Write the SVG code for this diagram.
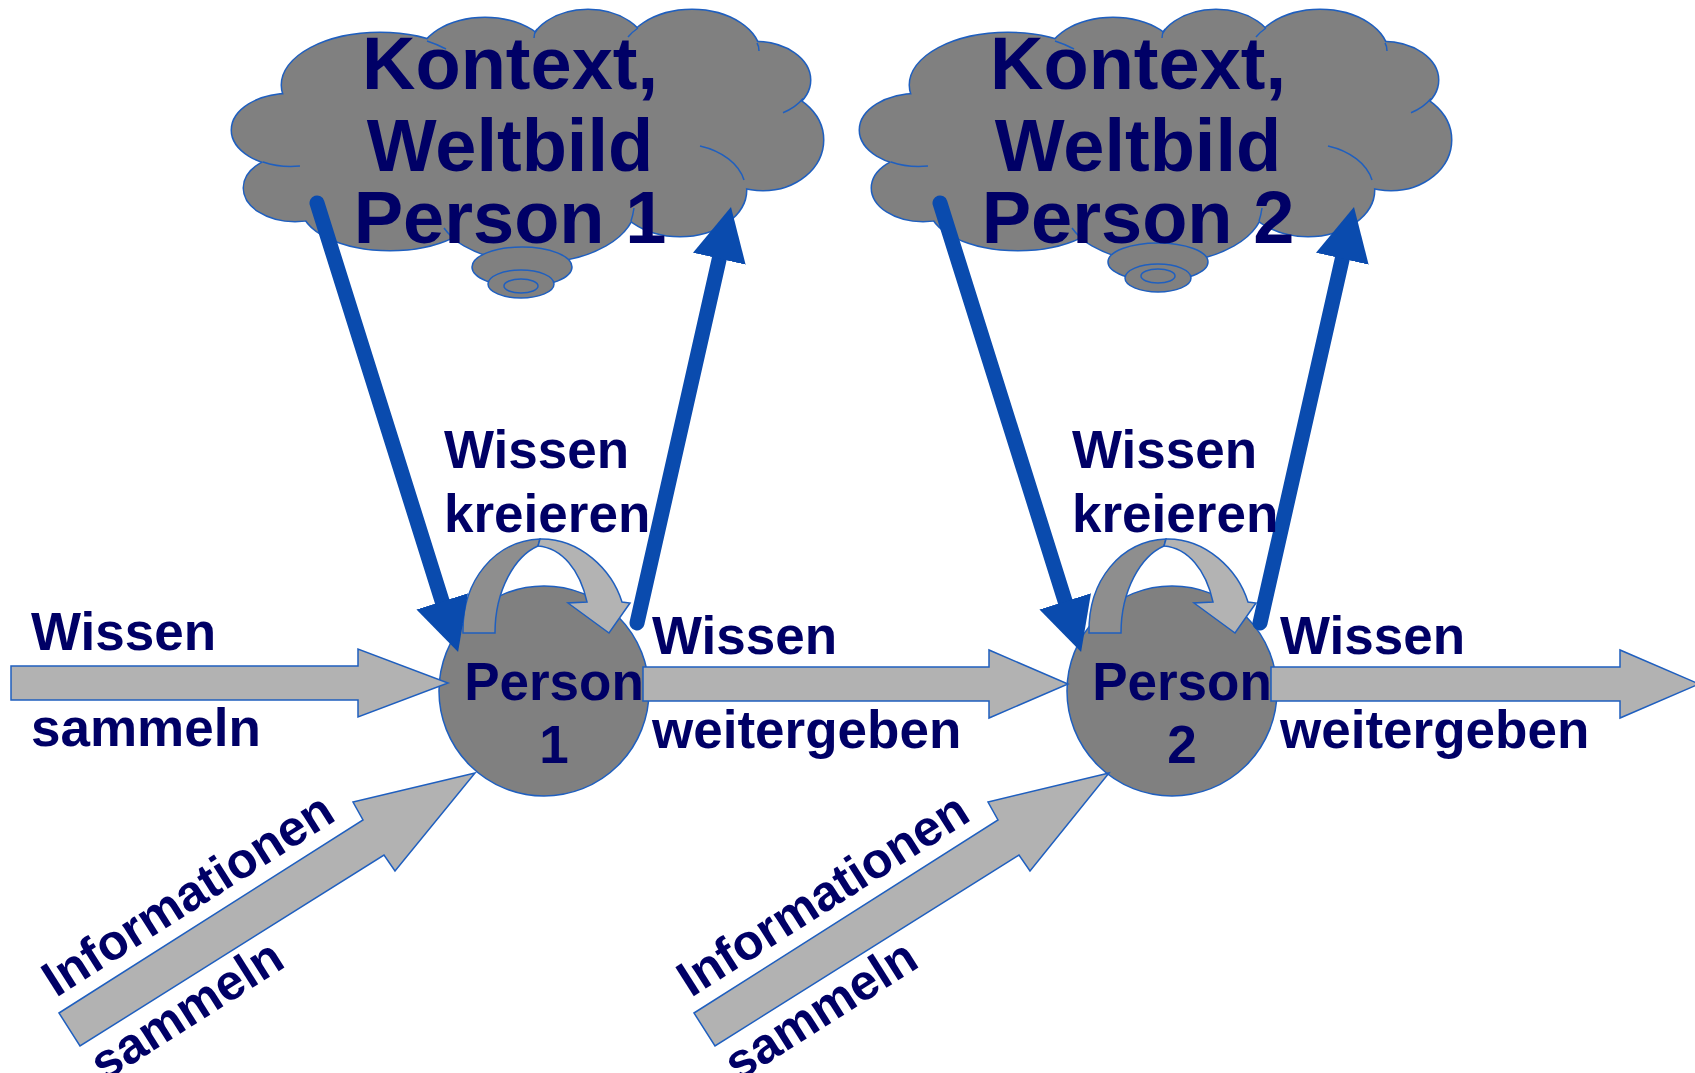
<svg xmlns="http://www.w3.org/2000/svg" width="1695" height="1073" viewBox="0 0 1695 1073">
<style>
  .lbl { font-family: "Liberation Sans", Arial, sans-serif; font-weight: bold; fill: #000066; }
  .big { font-size: 74px; text-anchor: middle; }
  .mid { font-size: 53px; }
  .rot { font-size: 50px; }
  .node { fill: #808080; stroke: #1f5fbf; stroke-width: 1.5; }
  .blk { fill: #b2b2b2; stroke: #1f5fbf; stroke-width: 1.5; stroke-linejoin: miter; }
  .dark { fill: #8e8e8e; stroke: #1f5fbf; stroke-width: 1.5; }
  .light { fill: #b3b3b3; stroke: #1f5fbf; stroke-width: 1.5; }
  .blue { stroke: #0a4bae; stroke-width: 15; stroke-linecap: round; fill: none; }
  .mark { fill: none; stroke: #1f5fbf; stroke-width: 1.5; }
</style>
<defs>
  <g id="lobes">
    <ellipse cx="290" cy="130" rx="58" ry="36"/>
    <ellipse cx="380" cy="85" rx="98" ry="52"/>
    <ellipse cx="485" cy="60" rx="66" ry="42"/>
    <ellipse cx="588" cy="50" rx="58" ry="40"/>
    <ellipse cx="692" cy="55" rx="68" ry="45"/>
    <ellipse cx="755" cy="80" rx="55" ry="38"/>
    <ellipse cx="763" cy="140" rx="60" ry="50"/>
    <ellipse cx="680" cy="190" rx="66" ry="46"/>
    <ellipse cx="535" cy="205" rx="100" ry="57"/>
    <ellipse cx="390" cy="207" rx="88" ry="43"/>
    <ellipse cx="295" cy="188" rx="51" ry="33"/>
    <ellipse cx="525" cy="130" rx="235" ry="95"/>
  </g>
  <g id="cloudBody">
    <use href="#lobes" fill="#808080" stroke="#1f5fbf" stroke-width="3"/>
    <use href="#lobes" fill="#808080" stroke="none"/>
    <path class="mark" d="M263,162 A58,36 0 0 0 300,166 M427,41 A98,52 0 0 1 446,49 M534,38 Q534,33 537,29 M638,28 A68,45 0 0 0 628,37 M757,43 Q759,46 759,51 M803,98.5 A55,38 0 0 1 783,112.7 M700,146 A66,46 0 0 1 744,180 M631,221 Q633,215 634,208 M452,237 A100,57 0 0 1 444,228"/>
  </g>
  <g id="loop">
    <path class="dark" d="M463,633 C462,580 495,541 540,539 L538,546 C515,556 495,590 495,633 Z"/>
    <path class="light" d="M540,539 C580,538 612,570 622,602 L630,603 L609,633 L568,603 L587,602 C580,570 562,548 538,546 Z"/>
  </g>
  <marker id="bhead" markerUnits="userSpaceOnUse" viewBox="0 0 53 54" markerWidth="53" markerHeight="54" refX="0" refY="27" orient="auto">
    <path d="M0,0 L53,27 L0,54 Z" fill="#0a4bae"/>
  </marker>
</defs>

<g id="cloud1">
  <use href="#cloudBody"/>
  <ellipse class="node" cx="522" cy="267" rx="50" ry="20"/>
  <ellipse class="node" cx="521" cy="284" rx="33" ry="14"/>
  <ellipse class="node" cx="521" cy="286" rx="17" ry="7"/>
  <text class="lbl big" x="510" y="89">Kontext,</text>
  <text class="lbl big" x="510" y="171">Weltbild</text>
  <text class="lbl big" x="510" y="243">Person 1</text>
</g>

<g id="cloud2">
  <use href="#cloudBody" x="628"/>
  <ellipse class="node" cx="1158" cy="262" rx="50" ry="19"/>
  <ellipse class="node" cx="1158" cy="278" rx="33" ry="14"/>
  <ellipse class="node" cx="1158" cy="276" rx="17" ry="7"/>
  <text class="lbl big" x="1138" y="89">Kontext,</text>
  <text class="lbl big" x="1138" y="171">Weltbild</text>
  <text class="lbl big" x="1138" y="243">Person 2</text>
</g>

<g id="person1">
  <circle class="node" cx="544" cy="691" r="105"/>
</g>

<g id="person2">
  <circle class="node" cx="1172" cy="691" r="105"/>
</g>

<g id="connectors">
  <use href="#loop"/>
  <use href="#loop" x="626"/>
  <path class="blk" d="M11,666 H358 V649 L448,683 L358,717 V700 H11 Z"/>
  <path class="blk" d="M643,667 H989 V650 L1068,684 L989,718 V701 H643 Z"/>
  <path class="blk" d="M1271,667 H1620 V650 L1699,684 L1620,718 V701 H1271 Z"/>
  <path class="blk" d="M59,1013 L363,820 L353,802 L475,773 L395,871 L384,855 L80,1046 Z"/>
  <path class="blk" d="M694,1013 L998,820 L988,802 L1109,773 L1030,871 L1019,855 L715,1046 Z"/>
  <path class="blue" d="M317,203 L442.2,601.4" marker-end="url(#bhead)"/>
  <path class="blue" d="M637,623 L719.3,258.7" marker-end="url(#bhead)"/>
  <path class="blue" d="M940,203 L1065.2,601.4" marker-end="url(#bhead)"/>
  <path class="blue" d="M1260,623 L1342.3,258.7" marker-end="url(#bhead)"/>
</g>

<g id="person-labels">
  <text class="lbl mid" x="554" y="700" text-anchor="middle">Person</text>
  <text class="lbl mid" x="554" y="763" text-anchor="middle">1</text>
  <text class="lbl mid" x="1182" y="700" text-anchor="middle">Person</text>
  <text class="lbl mid" x="1182" y="763" text-anchor="middle">2</text>
</g>

<g id="labels">
  <text class="lbl mid" x="444" y="468">Wissen</text>
  <text class="lbl mid" x="444" y="532">kreieren</text>
  <text class="lbl mid" x="1072" y="468">Wissen</text>
  <text class="lbl mid" x="1072" y="532">kreieren</text>
  <text class="lbl mid" x="31" y="650">Wissen</text>
  <text class="lbl mid" x="31" y="746">sammeln</text>
  <text class="lbl mid" x="652" y="654">Wissen</text>
  <text class="lbl mid" x="652" y="748">weitergeben</text>
  <text class="lbl mid" x="1280" y="654">Wissen</text>
  <text class="lbl mid" x="1280" y="748">weitergeben</text>
  <text class="lbl rot" transform="translate(56,998) rotate(-32.4)">Informationen</text>
  <text class="lbl rot" text-anchor="end" transform="translate(287,966) rotate(-32.4)">sammeln</text>
  <text class="lbl rot" transform="translate(691,998) rotate(-32.4)">Informationen</text>
  <text class="lbl rot" text-anchor="end" transform="translate(921,966) rotate(-32.4)">sammeln</text>
</g>
</svg>
